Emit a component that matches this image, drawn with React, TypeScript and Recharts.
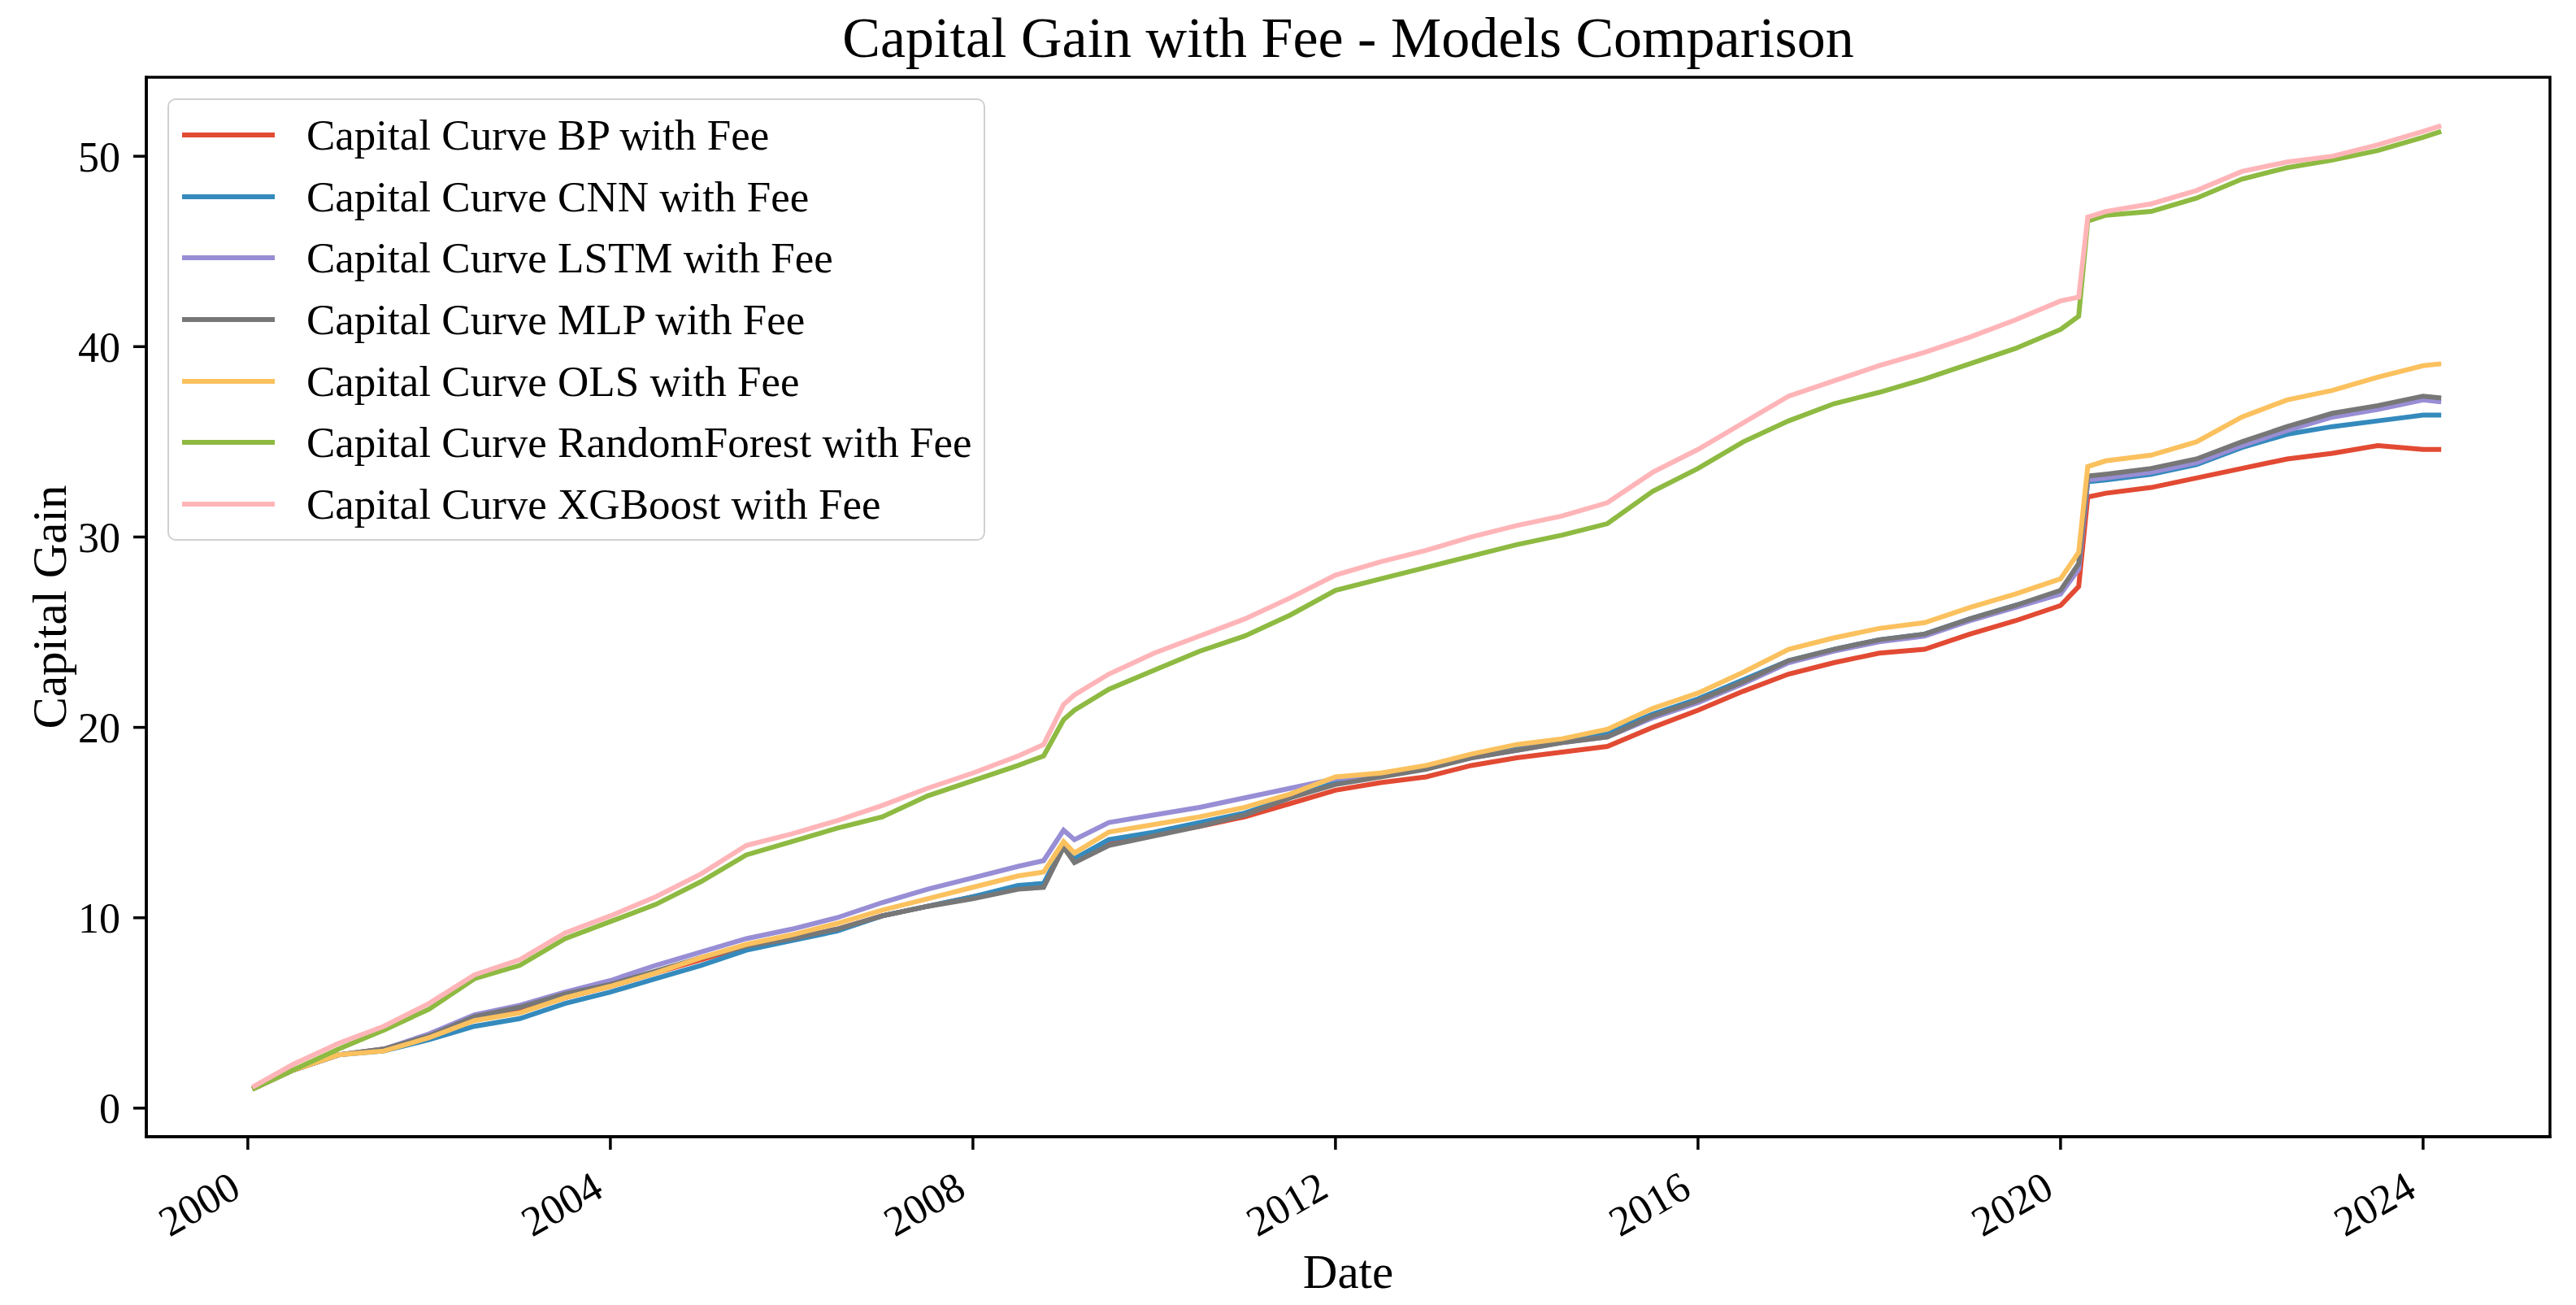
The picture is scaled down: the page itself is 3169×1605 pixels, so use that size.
import React from "react";
import { LineChart, Line, XAxis, YAxis, Legend, Label, ReferenceArea } from "recharts";

// sample dates as decimal years
const years = [
  2000.05, 2000.5, 2001, 2001.5, 2002, 2002.5, 2003, 2003.5, 2004, 2004.5,
  2005, 2005.5, 2006, 2006.5, 2007, 2007.5, 2008, 2008.5, 2008.78, 2009.0,
  2009.12, 2009.5, 2010, 2010.5, 2011, 2011.5, 2012, 2012.5, 2013, 2013.5,
  2014, 2014.5, 2015, 2015.5, 2016, 2016.5, 2017, 2017.5, 2018, 2018.5,
  2019, 2019.5, 2020, 2020.2, 2020.3, 2020.5, 2021, 2021.5, 2022, 2022.5,
  2023, 2023.5, 2024, 2024.2,
];

const bp = [
  1.0, 2.0, 2.8, 3.1, 3.8, 4.7, 5.1, 5.8, 6.4, 7.1,
  7.8, 8.5, 8.9, 9.4, 10.1, 10.6, 11.1, 11.6, 11.7, 13.8,
  13.0, 14.0, 14.4, 14.8, 15.3, 16.0, 16.7, 17.1, 17.4, 18.0,
  18.4, 18.7, 19.0, 20.0, 20.9, 21.9, 22.8, 23.4, 23.9, 24.1,
  24.9, 25.6, 26.4, 27.4, 32.1, 32.3, 32.6, 33.1, 33.6, 34.1,
  34.4, 34.8, 34.6, 34.6,
];

const cnn = [
  1.0, 2.0, 2.8, 3.0, 3.6, 4.3, 4.7, 5.5, 6.1, 6.8,
  7.5, 8.3, 8.8, 9.3, 10.1, 10.6, 11.1, 11.7, 11.8, 13.8,
  13.1, 14.1, 14.5, 15.0, 15.5, 16.3, 17.1, 17.5, 17.9, 18.5,
  18.9, 19.3, 19.7, 20.7, 21.5, 22.5, 23.5, 24.1, 24.6, 24.9,
  25.7, 26.4, 27.1, 28.4, 32.9, 33.0, 33.3, 33.8, 34.7, 35.4,
  35.8, 36.1, 36.4, 36.4,
];

const lstm = [
  1.0, 2.0, 2.8, 3.1, 3.9, 4.9, 5.4, 6.1, 6.7, 7.5,
  8.2, 8.9, 9.4, 10.0, 10.8, 11.5, 12.1, 12.7, 13.0, 14.6,
  14.1, 15.0, 15.4, 15.8, 16.3, 16.8, 17.3, 17.5, 17.9, 18.4,
  18.8, 19.2, 19.5, 20.5, 21.3, 22.3, 23.4, 24.0, 24.5, 24.8,
  25.6, 26.3, 27.0, 28.3, 33.0, 33.1, 33.4, 33.9, 34.8, 35.6,
  36.3, 36.7, 37.2, 37.1,
];

const mlp = [
  1.0, 2.0, 2.8, 3.1, 3.8, 4.8, 5.3, 6.0, 6.5, 7.2,
  7.9, 8.5, 8.9, 9.4, 10.1, 10.6, 11.0, 11.5, 11.6, 13.7,
  12.9, 13.8, 14.3, 14.8, 15.4, 16.3, 17.0, 17.4, 17.8, 18.4,
  18.8, 19.2, 19.5, 20.6, 21.4, 22.4, 23.5, 24.1, 24.6, 24.9,
  25.7, 26.4, 27.2, 28.6, 33.2, 33.3, 33.6, 34.1, 35.0, 35.8,
  36.5, 36.9, 37.4, 37.3,
];

const ols = [
  1.0, 2.0, 2.8, 3.0, 3.7, 4.6, 5.0, 5.8, 6.4, 7.1,
  7.9, 8.6, 9.1, 9.7, 10.4, 11.0, 11.6, 12.2, 12.4, 14.0,
  13.4, 14.5, 14.9, 15.3, 15.8, 16.5, 17.4, 17.6, 18.0, 18.6,
  19.1, 19.4, 19.9, 21.0, 21.8, 22.9, 24.1, 24.7, 25.2, 25.5,
  26.3, 27.0, 27.8, 29.2, 33.7, 34.0, 34.3, 35.0, 36.3, 37.2,
  37.7, 38.4, 39.0, 39.1,
];

const randomForest = [
  1.0, 2.0, 3.1, 4.1, 5.2, 6.8, 7.5, 8.9, 9.8, 10.7,
  11.9, 13.3, 14.0, 14.7, 15.3, 16.4, 17.2, 18.0, 18.5, 20.4,
  20.9, 22.0, 23.0, 24.0, 24.8, 25.9, 27.2, 27.8, 28.4, 29.0,
  29.6, 30.1, 30.7, 32.4, 33.6, 35.0, 36.1, 37.0, 37.6, 38.3,
  39.1, 39.9, 40.9, 41.6, 46.6, 46.9, 47.1, 47.8, 48.8, 49.4,
  49.8, 50.3, 51.0, 51.3,
];

const xgBoost = [
  1.1, 2.3, 3.4, 4.3, 5.5, 7.0, 7.8, 9.2, 10.1, 11.1,
  12.3, 13.8, 14.4, 15.1, 15.9, 16.8, 17.6, 18.5, 19.1, 21.2,
  21.7, 22.8, 23.9, 24.8, 25.7, 26.8, 28.0, 28.7, 29.3, 30.0,
  30.6, 31.1, 31.8, 33.4, 34.6, 36.0, 37.4, 38.2, 39.0, 39.7,
  40.5, 41.4, 42.4, 42.6, 46.8, 47.1, 47.5, 48.2, 49.2, 49.7,
  50.0, 50.6, 51.3, 51.6,
];

const SERIES = [
  { key: "bp", name: "Capital Curve BP with Fee", color: "#E24A33", values: bp },
  { key: "cnn", name: "Capital Curve CNN with Fee", color: "#348ABD", values: cnn },
  { key: "lstm", name: "Capital Curve LSTM with Fee", color: "#988ED5", values: lstm },
  { key: "mlp", name: "Capital Curve MLP with Fee", color: "#777777", values: mlp },
  { key: "ols", name: "Capital Curve OLS with Fee", color: "#FBC15E", values: ols },
  { key: "rf", name: "Capital Curve RandomForest with Fee", color: "#8EBA42", values: randomForest },
  { key: "xgb", name: "Capital Curve XGBoost with Fee", color: "#FFB5B8", values: xgBoost },
];

const X_TICKS = [2000, 2004, 2008, 2012, 2016, 2020, 2024];
const Y_TICKS = [0, 10, 20, 30, 40, 50];
const X_DOMAIN = [1998.88, 2025.4];
const Y_DOMAIN = [-1.5, 54.15];

const FONT = '"Liberation Serif", "Times New Roman", serif';
const SPINE = { stroke: "#000", strokeWidth: 3.5, strokeLinecap: "square" as const };

const data = years.map((year, i) => {
  const row: Record<string, number> = { year };
  SERIES.forEach((s) => {
    row[s.key] = s.values[i];
  });
  return row;
});

function XTick({ x, y, payload }: any) {
  return (
    <g transform={`translate(${x - 6},${y + 40})`}>
      <text transform="rotate(-30)" textAnchor="end" fontSize={52} fill="#000" fontFamily={FONT}>
        {payload.value}
      </text>
    </g>
  );
}

function LegendBox() {
  return (
    <div
      style={{
        boxSizing: "border-box",
        width: 1006,
        height: 544,
        border: "2.5px solid #d0d0d0",
        borderRadius: 10,
        background: "rgba(255,255,255,0.8)",
        paddingTop: 5,
        fontFamily: FONT,
        fontSize: 53,
        color: "#000",
      }}
    >
      {SERIES.map((s) => (
        <div key={s.key} style={{ height: 75.7, display: "flex", alignItems: "center" }}>
          <div style={{ marginLeft: 16, width: 114, height: 6, background: s.color }} />
          <span style={{ marginLeft: 39, whiteSpace: "nowrap" }}>{s.name}</span>
        </div>
      ))}
    </div>
  );
}

export default function App() {
  return (
    <div style={{ position: "absolute", left: 0, top: 0, width: 3169, height: 1605, background: "#fff" }}>
      <div
        style={{
          position: "absolute",
          left: 180,
          top: 12,
          width: 2957,
          textAlign: "center",
          fontFamily: FONT,
          fontSize: 70,
          lineHeight: "70px",
          color: "#000",
          whiteSpace: "nowrap",
        }}
      >
        Capital Gain with Fee - Models Comparison
      </div>
      <LineChart
        width={3169}
        height={1605}
        data={data}
        margin={{ top: 95, right: 32, bottom: 0, left: 0 }}
      >
        <XAxis
          dataKey="year"
          type="number"
          domain={X_DOMAIN}
          ticks={X_TICKS}
          height={207}
          tickSize={16}
          tickMargin={16}
          axisLine={SPINE}
          tickLine={{ stroke: "#000", strokeWidth: 3.5 }}
          tick={<XTick />}
          interval={0}
        >
          <Label
            content={(props: any) => {
              const vb = props.viewBox;
              return (
                <text x={vb.x + vb.width / 2} y={vb.y + 186} textAnchor="middle" fontSize={59} fontFamily={FONT} fill="#000">
                  Date
                </text>
              );
            }}
          />
        </XAxis>
        <YAxis
          type="number"
          domain={Y_DOMAIN}
          ticks={Y_TICKS}
          width={180}
          tickSize={16}
          tickMargin={16}
          axisLine={SPINE}
          tickLine={{ stroke: "#000", strokeWidth: 3.5 }}
          tick={{ fontSize: 52, fill: "#000", fontFamily: FONT }}
          interval={0}
        >
          <Label
            content={(props: any) => {
              const vb = props.viewBox;
              const cy = vb.y + vb.height / 2;
              return (
                <text transform={`translate(81,${cy}) rotate(-90)`} textAnchor="middle" fontSize={59} fontFamily={FONT} fill="#000">
                  Capital Gain
                </text>
              );
            }}
          />
        </YAxis>
        <Legend
          layout="horizontal"
          verticalAlign="middle"
          align="center"
          wrapperStyle={{ left: 206, top: 121, width: 1006, height: 544 }}
          content={() => <LegendBox />}
        />
        {SERIES.map((s) => (
          <Line
            key={s.key}
            dataKey={s.key}
            name={s.name}
            type="linear"
            stroke={s.color}
            strokeWidth={6}
            dot={false}
            activeDot={false}
            isAnimationActive={false}
          />
        ))}
        <ReferenceArea
          x1={X_DOMAIN[0]}
          x2={X_DOMAIN[1]}
          y1={Y_DOMAIN[0]}
          y2={Y_DOMAIN[1]}
          fill="none"
          fillOpacity={0}
          stroke="#000"
          strokeWidth={3.5}
          ifOverflow="visible"
        />
      </LineChart>
    </div>
  );
}
